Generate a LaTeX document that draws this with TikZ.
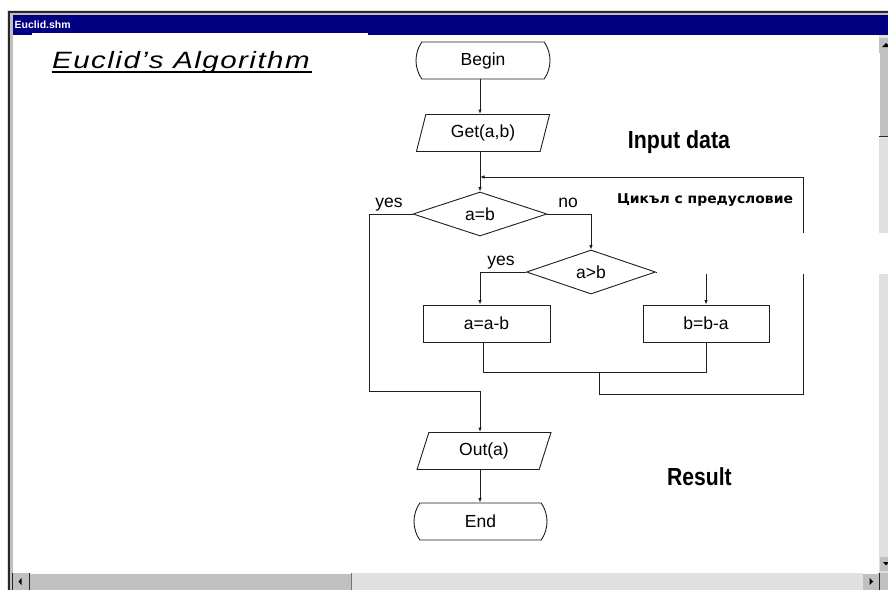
\documentclass[tikz,border=0pt]{standalone}
\usepackage{fontspec}
\usepackage{graphicx}
\setmainfont{Liberation Sans}
\newfontfamily\headfont[LetterSpace=5]{Liberation Sans}
\newfontfamily\cyrfont{DejaVu Sans}
\usetikzlibrary{shapes.geometric,shapes.misc,arrows.meta}

\definecolor{winnavy}{RGB}{0,0,128}
\definecolor{winface}{RGB}{192,192,192}
\definecolor{winlight}{RGB}{223,223,223}
\definecolor{winhatch}{RGB}{224,224,224}
\definecolor{windark}{RGB}{40,40,40}
\definecolor{ink}{RGB}{30,30,30}

\begin{document}
\begin{tikzpicture}[x=1pt,y=-1pt,
  flow/.style={draw=ink, line width=0.9pt, inner sep=0pt, font=\fontsize{17.5}{20}\selectfont},
  term/.style={flow, rounded rectangle, rounded rectangle arc length=70, minimum width=134pt, minimum height=37pt},
  io/.style={flow, trapezium, trapezium left angle=72, trapezium right angle=108, trapezium stretches=true, minimum width=134pt, minimum height=37pt},
  cond/.style={flow, diamond, minimum width=134pt, minimum height=44pt},
  proc/.style={flow, rectangle, minimum width=127pt, minimum height=37pt},
  link/.style={draw=ink, line width=0.9pt},
  arr/.style={link, -{Latex[length=4.5pt,width=3.5pt]}},
  lbl/.style={inner sep=0pt, anchor=base, font=\fontsize{17.5}{20}\selectfont},
  note/.style={inner sep=0pt, anchor=base, font=\fontsize{24.7}{28}\selectfont\bfseries},
  btn/.style={fill=winface},
  glyph/.style={fill=black},
]
\useasboundingbox (0,0) rectangle (888,590);
\fill[white] (0,0) rectangle (888,590);

% window frame and title bar
\fill[winlight] (6.5,9.5) rectangle (888,590);
\fill[windark] (8,11) rectangle (888,590);
\fill[winface] (10,13) rectangle (888,590);
\fill[winnavy] (13,15) rectangle (888,35);
\node[anchor=base west, inner sep=0pt, text=white, font=\fontsize{10.5}{12}\selectfont\bfseries] (wintitle) at (14.5,28.5) {Euclid.shm};
\fill[white] (13,35) rectangle (879,573);
\fill[white] (32,33) rectangle (368,35);

% vertical scrollbar
\fill[winhatch] (879,35) rectangle (888,573);
\fill[btn] (879,38) rectangle (888,53);
\fill[glyph] (882,47) -- (890,47) -- (886,43) -- cycle;
\fill[btn] (879,53) rectangle (888,137);
\draw[windark, line width=1pt] (879,136.5) -- (888,136.5);
\draw[white, line width=1pt] (879.5,53) -- (879.5,136);
\fill[btn] (880,557) rectangle (888,571);
\fill[glyph] (883,562) -- (889,562) -- (886,565.5) -- cycle;

% horizontal scrollbar
\fill[winhatch] (13,573) rectangle (879,590);
\fill[btn] (13,573) rectangle (30,590);
\draw[windark, line width=1pt] (29.5,573) -- (29.5,590);
\draw[windark, line width=1pt] (12.5,573) -- (12.5,590);
\fill[glyph] (18.5,581.5) -- (21.5,578) -- (21.5,585) -- cycle;
\fill[btn] (30,573) rectangle (351,590);
\draw[white, line width=1pt] (30,573.5) -- (351,573.5);
\draw[winface!60!black, line width=1pt] (351,573) -- (351,590);
\fill[btn] (863,573) rectangle (879,590);
\draw[white, line width=1pt] (863,573.5) -- (878,573.5);
\fill[glyph] (873,581.5) -- (869.5,578) -- (869.5,585) -- cycle;
\draw[windark, line width=1pt] (879,573) -- (879,590);
\fill[btn] (879.5,573) rectangle (888,590);

% heading
\node[anchor=base west, inner sep=0pt, font=\headfont\itshape\fontsize{23.6}{28}\selectfont] (heading) at (52,68.5) {\scalebox{1.25}[1]{Euclid’s Algorithm}};
\draw[line width=2.2pt] (52,72) -- (312,72);

% flowchart
\coordinate (trunk) at (480,0);
\coordinate (aleft) at (483,0);
\node[term] (begin) at (483,60.5) {Begin};
\node[io] (get) at (483,133) {Get(a,b)};
\node[cond] (eq) at (480,214) {a=b};
\node[cond, minimum width=129pt] (gt) at (591,272) {a>b};
\node[proc] (sub1) at (486.5,323.5) {a=a-b};
\node[proc, minimum width=126pt] (sub2) at (706,323.5) {b=b-a};
\node[io] (out) at (484,451) {Out(a)};
\node[term, minimum width=133pt] (end) at (480.5,521.5) {End};

\coordinate (loopin) at (480,177);
\coordinate (yesdrop) at (369,391);
\coordinate (merge) at (599,372);
\coordinate (loopbot) at (803,394);

\draw[arr] (begin.south -| trunk) -- (get.north -| trunk);
\draw[link] (get.south -| trunk) -- (loopin);
\draw[arr] (loopin) -- (eq.north);
\draw[arr] (eq.west) -| (yesdrop) -| (out.north -| trunk);
\draw[arr] (eq.east) -| (gt.north);
\draw[arr] (gt.west) -| (sub1.north -| trunk);
\draw[arr] (gt.east) -| (sub2.north);
\draw[link] (sub1.south -| aleft) |- (sub2.south |- merge) -- (sub2.south);
\draw[arr] (merge) |- (loopbot) |- (loopin);
\draw[arr] (out.south -| trunk) -- (end.north -| trunk);

\node[lbl] (yes1) at (389,207.5) {yes};
\node[lbl] (no1) at (568,207.5) {no};
\node[lbl] (yes2) at (501,265) {yes};

% blank band across the right side
\fill[white] (657,233) rectangle (888,273.5);

% side notes
\node[note] (indata) at (679,148) {\scalebox{0.865}[1]{Input data}};
\node[note] (result) at (699.5,485) {\scalebox{0.855}[1]{Result}};
\node[inner sep=0pt, anchor=base, font=\cyrfont\bfseries\fontsize{13.5}{15}\selectfont] (loopnote) at (705,203) {\scalebox{1.03}[1]{Цикъл с предусловие}};
\end{tikzpicture}
\end{document}
